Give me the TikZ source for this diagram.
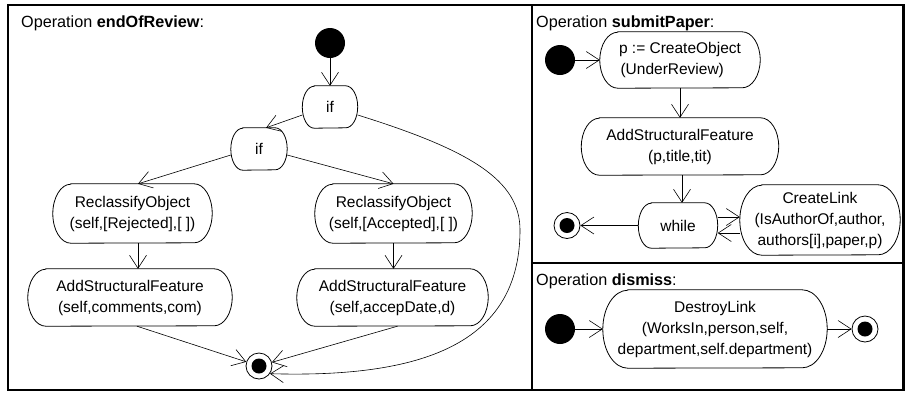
\documentclass[tikz,border=0pt]{standalone}
\usepackage{fontspec}
\setmainfont{Liberation Sans}
\usetikzlibrary{arrows.meta,calc}
\newcommand\actfont{\fontsize{15.5}{21}\selectfont}
\newcommand\ttlfont{\fontsize{16.2}{20}\selectfont}
% outline of an action state: flat top and bottom, elliptic sides
% #1 node name, #2 half height (pt), #3 horizontal extent of a side (pt)
\newcommand\actoutline[3]{%
  \draw[outl] ([xshift=#3pt]#1.north west) -- ([xshift=-#3pt]#1.north east)
    arc[start angle=90,end angle=-90,x radius=#3pt,y radius=#2pt]
    -- ([xshift=#3pt]#1.south west)
    arc[start angle=270,end angle=90,x radius=#3pt,y radius=#2pt] -- cycle;}
\begin{document}
\begin{tikzpicture}[x=1pt,y=-1pt,
  act/.style={rectangle, align=center, inner sep=0pt, font=\actfont},
  outl/.style={line width=0.8pt},
  initst/.style={circle, fill=black, minimum size=30pt, inner sep=0pt},
  finalst/.style={circle, draw, line width=0.8pt, minimum size=26pt, inner sep=0pt,
    path picture={\fill (path picture bounding box.center) circle (7.5pt);}},
  arr/.style={line width=0.6pt, -{Straight Barb[length=13pt,width=17pt,line width=0.6pt]}},
  ttl/.style={anchor=base west, inner sep=0pt, font=\ttlfont},
  frame/.style={line width=2.5pt}
]
\useasboundingbox (0,0) rectangle (905,392);
% frames
\draw[frame] (8,5) rectangle (903.5,390);
\draw[frame] (532,5) -- (532,390);
\draw[frame] (532,263) -- (903.5,263);

% ---------- endOfReview ----------
\node[ttl] (t1) at (21,27) {Operation \textbf{endOfReview}:};
\node[initst] (init1) at (330,43) {};
\node[act, minimum width=55pt, minimum height=42pt] (if1) at (330,107) {if};
\node[act, minimum width=56pt, minimum height=42pt] (if2) at (259,149) {if};
\node[act, minimum width=159pt, minimum height=59pt] (recl1) at (132.5,213.5) {ReclassifyObject\\(self,[Rejected],[ ])};
\node[act, minimum width=157pt, minimum height=59pt] (recl2) at (393.5,213.5) {ReclassifyObject\\(self,[Accepted],[ ])};
\node[act, minimum width=204pt, minimum height=57pt] (asf1) at (130,297.5) {AddStructuralFeature\\(self,comments,com)};
\node[act, minimum width=191pt, minimum height=57pt] (asf2) at (392.5,297.5) {AddStructuralFeature\\(self,accepDate,d)};
\node[finalst] (final1) at (259,366) {};
\actoutline{if1}{21}{12}
\actoutline{if2}{21}{12}
\actoutline{recl1}{29.5}{18}
\actoutline{recl2}{29.5}{18}
\actoutline{asf1}{28.5}{18}
\actoutline{asf2}{28.5}{18}

\draw[arr] (init1.south) -- (init1.south |- if1.north);
\draw[arr] ([yshift=-8pt]if1.west) -- ([xshift=7pt]if2.north);
\draw[arr] ([yshift=-6pt]if2.west) -- ([xshift=5.5pt]recl1.north);
\draw[arr] ([yshift=-6pt]if2.east) -- (recl2.north);
\draw[arr] ([xshift=5.5pt]recl1.south) -- ([xshift=5.5pt]recl1.south |- asf1.north);
\draw[arr] (recl2.south) -- (recl2.south |- asf2.north);
\draw[arr] ([xshift=7pt]asf1.south) -- (final1);
\draw[arr] ([xshift=5pt]asf2.south) -- (final1);
\draw[arr] ([yshift=-8pt]if1.east) .. controls (470,150) and (520,180) .. (520,230)
  .. controls (520,345) and (420,378) .. (final1.-35);

% ---------- submitPaper ----------
\node[ttl] (t2) at (536,27.5) {Operation \textbf{submitPaper}:};
\node[initst] (init2) at (560,60) {};
\node[act, align=left, minimum width=160pt, minimum height=56pt] (co) at (680,60) {p := CreateObject\\\hspace{1.5pt}(UnderReview)};
\node[act, minimum width=197pt, minimum height=57pt] (asf3) at (680,146.5) {AddStructuralFeature\\(p,title,tit)};
\node[act, minimum width=79pt, minimum height=45pt] (wh) at (678,225.5) {while};
\node[act, minimum width=160pt, minimum height=70pt] (cl) at (820,220) {CreateLink\\(IsAuthorOf,author,\\authors[i],paper,p)};
\node[finalst] (final2) at (567,225.5) {};
\actoutline{co}{28}{18}
\actoutline{asf3}{28.5}{18}
\actoutline{wh}{22.5}{13}
\actoutline{cl}{35}{22}

\draw[arr] (init2) -- (co);
\draw[arr] (co.south) -- (co.south |- asf3.north);
\draw[arr] ([xshift=2pt]asf3.south) -- ([xshift=2pt]asf3.south |- wh.north);
\draw[arr] (wh) -- (final2);
\draw[arr] ([yshift=8.5pt]wh.east) -- ([yshift=8.5pt]wh.east -| cl.west);
\draw[arr] ([yshift=-7.5pt]wh.east -| cl.west) -- ([yshift=-7.5pt]wh.east);

% ---------- dismiss ----------
\node[ttl] (t3) at (536,285.5) {Operation \textbf{dismiss}:};
\node[initst] (init3) at (560,329) {};
\node[act, minimum width=224pt, minimum height=78pt] (dl) at (715,329) {DestroyLink\\(WorksIn,person,self,\\department,self.department)};
\node[finalst] (final3) at (865,329) {};
\actoutline{dl}{39}{25}
\draw[arr] (init3) -- (dl);
\draw[arr] (dl) -- (final3);
\end{tikzpicture}
\end{document}
